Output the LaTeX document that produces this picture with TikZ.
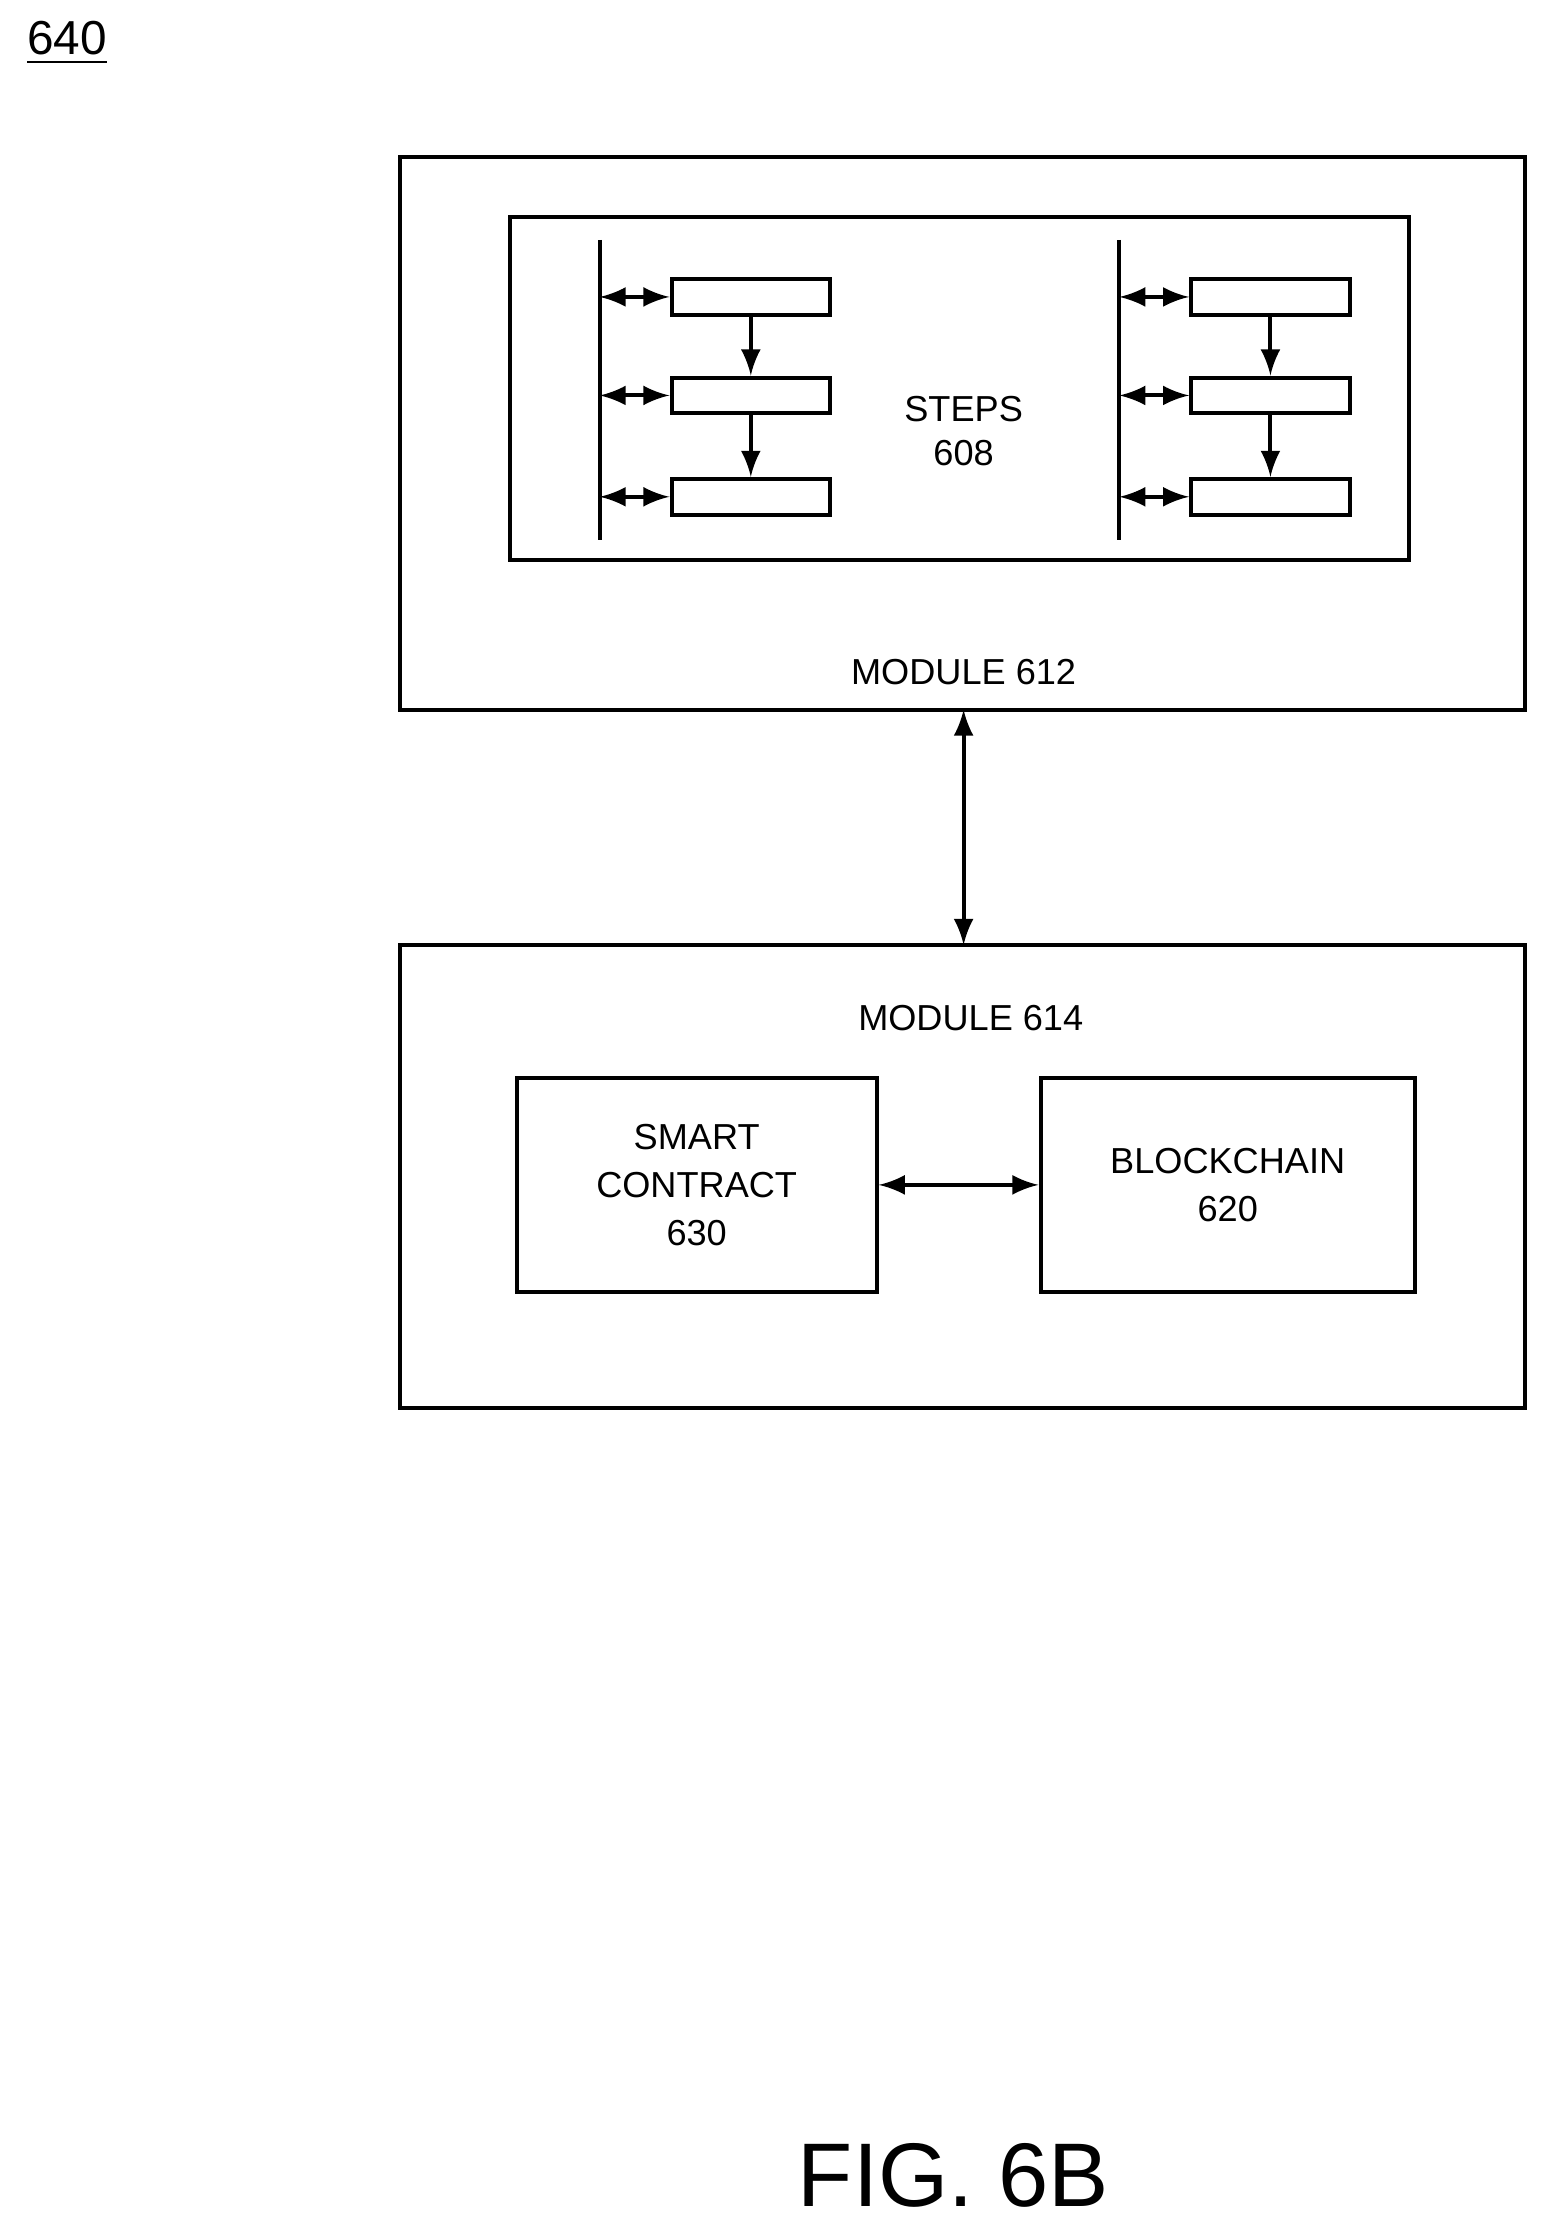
\documentclass[tikz,border=0pt]{standalone}
\usepackage{fontspec}
\setmainfont{Liberation Sans}
\usetikzlibrary{positioning}
\tikzset{
	box/.style={draw, thick, inner sep=0pt},
	stepbox/.style={draw, thick, minimum width=1.11cm, minimum height=0.25cm, inner sep=0pt},
	link/.style={thick, latex-latex},
	flow/.style={thick, -latex}
}
\begin{document}
\begin{tikzpicture}
	[
	x=0.01cm, y=-0.01cm, font=\fontsize{7.2}{8.6}\selectfont
	%Einheit: Pixel der Vorlage
	]
	\useasboundingbox (0,0) rectangle (1080,1560);
	\node[font=\fontsize{9.5}{10}\selectfont] (fignr) at (47,30) {\underline{640}};
	%Modul oben
	\draw[thick] (280,110) rectangle (1068,497);
	\draw[thick] (357,152) rectangle (987,392);
	\coordinate (m612top) at (675,497);
	\node (module612) at (675,471) {MODULE 612};
	\node[align=center] (steps) at (675,302) {STEPS\\[0pt]608};
	\foreach \bx/\side in {420/l, 784/r}{
		\draw[thick] (\bx,168) -- (\bx,378);
		\foreach \y/\i in {208/1, 277/2, 348/3}{
			\node[stepbox, anchor=west] (s\side\i) at (\bx+49,\y) {};
			\coordinate (b\side\i) at (\bx,\y);
			\draw[link] (b\side\i) -- (s\side\i);
		}
		\draw[flow] (s\side1) -- (s\side2);
		\draw[flow] (s\side2) -- (s\side3);
	}
	%Modul unten
	\draw[thick] (280,662) rectangle (1068,986);
	\coordinate (m614top) at (675,662);
	\node (module614) at (680,713) {MODULE 614};
	\node[box, minimum width=2.52cm, minimum height=1.5cm, align=center] (contract) at (488,830) {SMART\\[1pt]CONTRACT\\[1pt]630};
	\node[box, minimum width=2.62cm, minimum height=1.5cm, align=center] (chain) at (860,830) {BLOCKCHAIN\\[1pt]620};
	\draw[link] (contract) -- (chain);
	\draw[link] (m612top) -- (m614top);
	\node[font=\fontsize{18}{22}\selectfont] (caption) at (668,1524) {FIG. 6B};
\end{tikzpicture}
\end{document}
